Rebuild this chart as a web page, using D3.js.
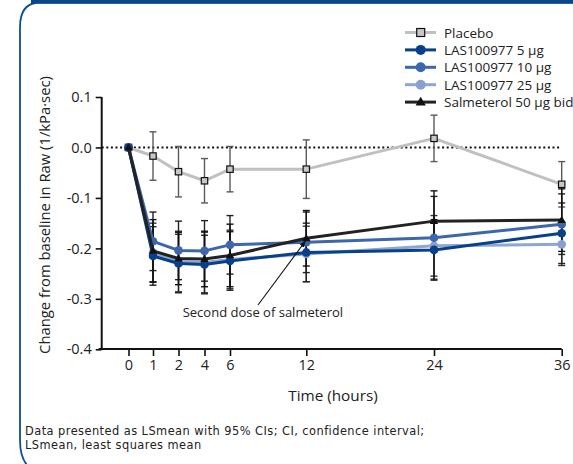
<!DOCTYPE html>
<html><head><meta charset="utf-8">
<script src="https://cdn.jsdelivr.net/npm/d3@7"></script>
<style>body{margin:0;background:#fff;}svg{display:block;font-family:"Open Sans",sans-serif;}</style>
</head><body><svg id="c" width="573" height="464"></svg>
<script>
const times = [0, 1, 2, 4, 6, 12, 24, 36];
const yTicks = [0.1, 0.0, -0.1, -0.2, -0.3, -0.4];
const yTickLabels = ["0.1", "0.0", "-0.1", "-0.2", "-0.3", "-0.4"];
const seriesNames = ["Placebo", "LAS100977 5 µg", "LAS100977 10 µg", "LAS100977 25 µg", "Salmeterol 50 µg bid"];
const placebo  = [0, -0.017, -0.048, -0.066, -0.043, -0.043, 0.018, -0.073];
const las5     = [0, -0.215, -0.230, -0.232, -0.225, -0.208, -0.203, -0.170];
const las10    = [0, -0.186, -0.204, -0.205, -0.193, -0.188, -0.179, -0.152];
const las25    = [0, -0.208, -0.226, -0.228, -0.222, -0.211, -0.195, -0.192];
const salm     = [0, -0.205, -0.220, -0.221, -0.214, -0.180, -0.146, -0.144];
const placeboCI = [0, 0.048, 0.050, 0.044, 0.045, 0.058, 0.046, 0.045];
const las5CI    = [0, 0.058, 0.058, 0.058, 0.058, 0.058, 0.060, 0.060];
const las10CI   = [0, 0.058, 0.058, 0.060, 0.058, 0.060, 0.082, 0.060];
const las25CI   = [0, 0.058, 0.060, 0.060, 0.058, 0.055, 0.060, 0.042];
const salmCI    = [0, 0.062, 0.052, 0.055, 0.062, 0.055, 0.060, 0.062];
const annotation = "Second dose of salmeterol";
const xTitle = "Time (hours)";
const yTitle = "Change from baseline in Raw (1/kPa·sec)";
const footnote = ["Data presented as LSmean with 95% CIs; CI, confidence interval;", "LSmean, least squares mean"];

const svg = d3.select("#c");
// frame
svg.append("path").attr("d","M573,2.5 H38 Q20,4 20,27 V440 Q20,458 28,466")
  .attr("fill","none").attr("stroke","#0b4f96").attr("stroke-width",1.8);
svg.append("rect").attr("x",31).attr("y",0).attr("width",542).attr("height",3.7).attr("fill","#0a4689");

const axX = 101.7, axY = 349;
const x = d3.scaleLinear().domain(times).range([128.5, 153, 178.5, 204.5, 230, 306.3, 434, 561.7]);
const y = d3.scaleLinear().domain([-0.4, 0.1]).range([349.3, 97]);

// axes
const ya = svg.append("g").attr("transform",`translate(${axX},0)`)
  .call(d3.axisLeft(y).tickValues(yTicks).tickFormat((d,i)=>yTickLabels[i]).tickSize(6).tickPadding(4));
ya.select(".domain").attr("d",`M0,${y(0.1)}V${axY}`).attr("stroke","#111").attr("stroke-width",2);
ya.selectAll(".tick line").attr("stroke","#111").attr("stroke-width",1.6);
ya.selectAll(".tick text").attr("font-size",14.5).attr("fill","#222").attr("font-family","Open Sans");

const xa = svg.append("g").attr("transform",`translate(0,${axY})`)
  .call(d3.axisBottom(x).tickValues(times).tickFormat(d3.format("d")).tickSize(7).tickPadding(4));
xa.select(".domain").attr("d",`M${axX-3},0H${x(36)}`).attr("stroke","#111").attr("stroke-width",2);
xa.selectAll(".tick line").attr("stroke","#111").attr("stroke-width",1.6);
xa.selectAll(".tick text").attr("font-size",14.5).attr("fill","#222").attr("font-family","Open Sans");

// zero dotted line
svg.append("line").attr("x1",axX).attr("x2",x(36)).attr("y1",y(0)).attr("y2",y(0))
  .attr("stroke","#111").attr("stroke-width",2).attr("stroke-dasharray","2,2.6");

// titles
svg.append("text").attr("x",333).attr("y",401).attr("text-anchor","middle").attr("font-size",15.3).attr("fill","#222").text(xTitle);
svg.append("text").attr("transform","translate(50,215) rotate(-90)").attr("text-anchor","middle").attr("font-size",14.8).attr("fill","#222").text(yTitle);
footnote.forEach((t,i)=>svg.append("text").attr("x",25).attr("y",435+i*13.6).attr("font-size",11.4)
  .attr("font-family","DejaVu Sans").attr("letter-spacing",0.45).attr("fill","#222").text(t));

const series = [
  {name: seriesNames[0], vals: placebo, ci: placeboCI, color: "#c0c0c0", fill:"#c8c8c8", mk:"square", eb:"#5a5a5a"},
  {name: seriesNames[1], vals: las5, ci: las5CI, color: "#08418a", fill:"#08418a", mk:"circle", eb:"#222"},
  {name: seriesNames[2], vals: las10, ci: las10CI, color: "#3d67aa", fill:"#3d67aa", mk:"circle", eb:"#222"},
  {name: seriesNames[3], vals: las25, ci: las25CI, color: "#8fa6d2", fill:"#8aa1cf", mk:"circle", eb:"#333"},
  {name: seriesNames[4], vals: salm, ci: salmCI, color: "#222", fill:"#111", mk:"triangle", eb:"#111"}
];

// error bars
const ebOrder = [0,3,2,1,4];
ebOrder.forEach(si => {
  const s = series[si];
  const g = svg.append("g");
  times.forEach((t,i) => {
    if (s.ci[i] === 0) return;
    const cx = x(t), hi = y(s.vals[i]+s.ci[i]), lo = y(s.vals[i]-s.ci[i]);
    g.append("line").attr("x1",cx).attr("x2",cx).attr("y1",hi).attr("y2",lo).attr("stroke",s.eb).attr("stroke-width",1.4);
    [hi,lo].forEach(yy => g.append("line").attr("x1",cx-3.5).attr("x2",cx+3.5).attr("y1",yy).attr("y2",yy).attr("stroke",s.eb).attr("stroke-width",1.4));
  });
});

const line = d3.line().x((d,i)=>x(times[i])).y(d=>y(d));
function marker(g, s, cx, cy, big) {
  if (s.mk === "square") {
    const h = big ? 4 : 3.2;
    g.append("rect").attr("x",cx-h).attr("y",cy-h).attr("width",2*h).attr("height",2*h)
      .attr("fill",s.fill).attr("stroke","#111").attr("stroke-width",1.2);
  } else if (s.mk === "circle") {
    g.append("circle").attr("cx",cx).attr("cy",cy).attr("r",big?5:4.3).attr("fill",s.fill);
  } else {
    g.append("path").attr("d",d3.symbol(d3.symbolTriangle, big?45:30)()).attr("transform",`translate(${cx},${cy+0.5})`).attr("fill",s.fill);
  }
}
const drawOrder = [0,3,2,1,4];
drawOrder.forEach(si => {
  const s = series[si];
  const g = svg.append("g");
  g.append("path").datum(s.vals).attr("d",line).attr("fill","none").attr("stroke",s.color).attr("stroke-width",3).attr("stroke-linejoin","round");
  s.vals.forEach((v,i)=>marker(g,s,x(times[i]),y(v),false));
});

// annotation arrow
svg.append("defs").append("marker").attr("id","ah").attr("viewBox","0 0 10 10").attr("refX",9).attr("refY",5)
  .attr("markerWidth",6).attr("markerHeight",6).attr("orient","auto")
  .append("path").attr("d","M0,1 L10,5 L0,9 Z").attr("fill","#111");
svg.append("line").attr("x1",258).attr("y1",305).attr("x2",x(12)-1).attr("y2",y(salm[5])+3)
  .attr("stroke","#111").attr("stroke-width",1.1).attr("marker-end","url(#ah)");
svg.append("text").attr("x",182.7).attr("y",317).attr("font-size",13).attr("fill","#222").text(annotation);

// legend
const lg = svg.append("g");
series.forEach((s,i) => {
  const yy = 32.5 + i*17.4;
  lg.append("line").attr("x1",405).attr("x2",436).attr("y1",yy).attr("y2",yy).attr("stroke",s.color).attr("stroke-width",3);
  marker(lg, s, 420.7, yy, true);
  lg.append("text").attr("x",444).attr("y",yy+5).attr("font-size",13.5).attr("fill","#222").text(s.name);
});
</script></body></html>
